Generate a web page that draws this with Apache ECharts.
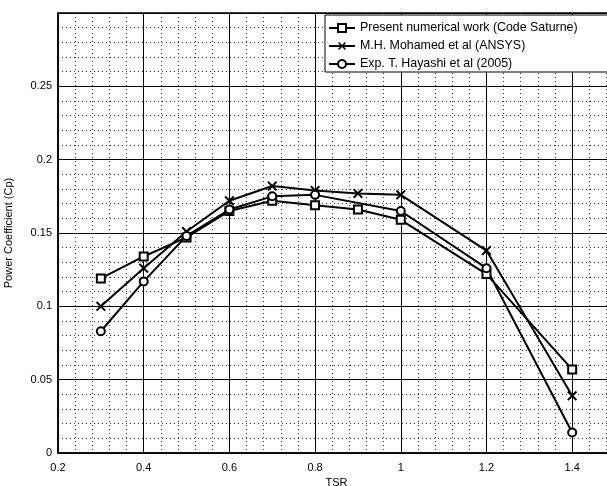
<!DOCTYPE html>
<html>
<head>
<meta charset="utf-8">
<script src="https://cdn.jsdelivr.net/npm/echarts@6/dist/echarts.min.js"></script>
<style>
html,body{margin:0;padding:0;background:#fff}
#chart{width:607px;height:486px}
</style>
</head>
<body>
<div id="chart"></div>
<script>
// series values
var tsr = [0.3, 0.4, 0.5, 0.6, 0.7, 0.8, 0.9, 1.0, 1.2, 1.4];
var cpSaturne = [0.119, 0.134, 0.147, 0.165, 0.172, 0.169, 0.166, 0.159, 0.122, 0.057];
var cpAnsys = [0.100, 0.126, 0.151, 0.172, 0.182, 0.179, 0.177, 0.176, 0.138, 0.039];
var tsrExp = [0.3, 0.4, 0.5, 0.6, 0.7, 0.8, 1.0, 1.2, 1.4];
var cpExp = [0.083, 0.117, 0.148, 0.166, 0.175, 0.176, 0.165, 0.126, 0.014];
var names = ['Present numerical work (Code Saturne)', 'M.H. Mohamed et al (ANSYS)', 'Exp. T. Hayashi et al (2005)'];

function pairs(xs, ys){
    var out = [];
    for (var i = 0; i < xs.length; i++) out.push([xs[i], ys[i]]);
    return out;
}
function fmt(v){ return String(Math.round(v * 100) / 100); }

var font = 'Liberation Sans, Arial, sans-serif';
var crossPath = 'path://M0,1.4L1.4,0L5,3.6L8.6,0L10,1.4L6.4,5L10,8.6L8.6,10L5,6.4L1.4,10L0,8.6L3.6,5Z';

var myChart = echarts.init(document.getElementById('chart'));
myChart.setOption({
    animation: false,
    grid: {
        left: 58, top: 13, width: 557, height: 440,
        outerBoundsMode: 'none', containLabel: false,
        show: true, borderColor: '#000', borderWidth: 1.5
    },
    legend: {
        left: 325, top: 15, orient: 'vertical',
        itemWidth: 26, itemHeight: 10, itemGap: 6,
        padding: [7, 60, 2, 3],
        borderColor: '#000', borderWidth: 1, backgroundColor: '#fff',
        textStyle: { fontFamily: font, fontSize: 12.4, color: '#000' },
        data: names
    },
    xAxis: {
        type: 'value', min: 0.2, max: 1.5, interval: 0.2,
        name: 'TSR', nameLocation: 'middle', nameGap: 20,
        nameTextStyle: { fontFamily: font, fontSize: 11, color: '#000' },
        axisLine: { show: true, lineStyle: { color: '#000', width: 1.5 } },
        axisTick: { show: false },
        axisLabel: { fontFamily: font, fontSize: 11, color: '#000', margin: 9, showMaxLabel: false, formatter: fmt },
        splitLine: { show: true, lineStyle: { color: '#000', width: 1 } },
        minorTick: { show: false, splitNumber: 5 },
        minorSplitLine: { show: true, lineStyle: { color: '#333', width: 1, type: [1, 3] } }
    },
    yAxis: {
        type: 'value', min: 0, max: 0.3, interval: 0.05,
        name: 'Power Coefficient (Cp)', nameLocation: 'middle', nameGap: 44,
        nameTextStyle: { fontFamily: font, fontSize: 11, color: '#000' },
        axisLine: { show: true, lineStyle: { color: '#000', width: 1.5 } },
        axisTick: { show: false },
        axisLabel: { fontFamily: font, fontSize: 11, color: '#000', margin: 6, showMaxLabel: false, formatter: fmt },
        splitLine: { show: true, lineStyle: { color: '#000', width: 1 } },
        minorTick: { show: false, splitNumber: 5 },
        minorSplitLine: { show: true, lineStyle: { color: '#333', width: 1, type: [1, 3] } }
    },
    series: [
        {
            name: names[0], type: 'line', data: pairs(tsr, cpSaturne),
            symbol: 'emptyRect', symbolSize: 8,
            lineStyle: { color: '#000', width: 2 },
            itemStyle: { color: '#000', borderWidth: 2 }
        },
        {
            name: names[1], type: 'line', data: pairs(tsr, cpAnsys),
            symbol: crossPath, symbolSize: 10,
            lineStyle: { color: '#000', width: 2 },
            itemStyle: { color: '#000' }
        },
        {
            name: names[2], type: 'line', data: pairs(tsrExp, cpExp),
            symbol: 'emptyCircle', symbolSize: 8,
            lineStyle: { color: '#000', width: 2 },
            itemStyle: { color: '#000', borderWidth: 2 }
        }
    ]
});
</script>
</body>
</html>
